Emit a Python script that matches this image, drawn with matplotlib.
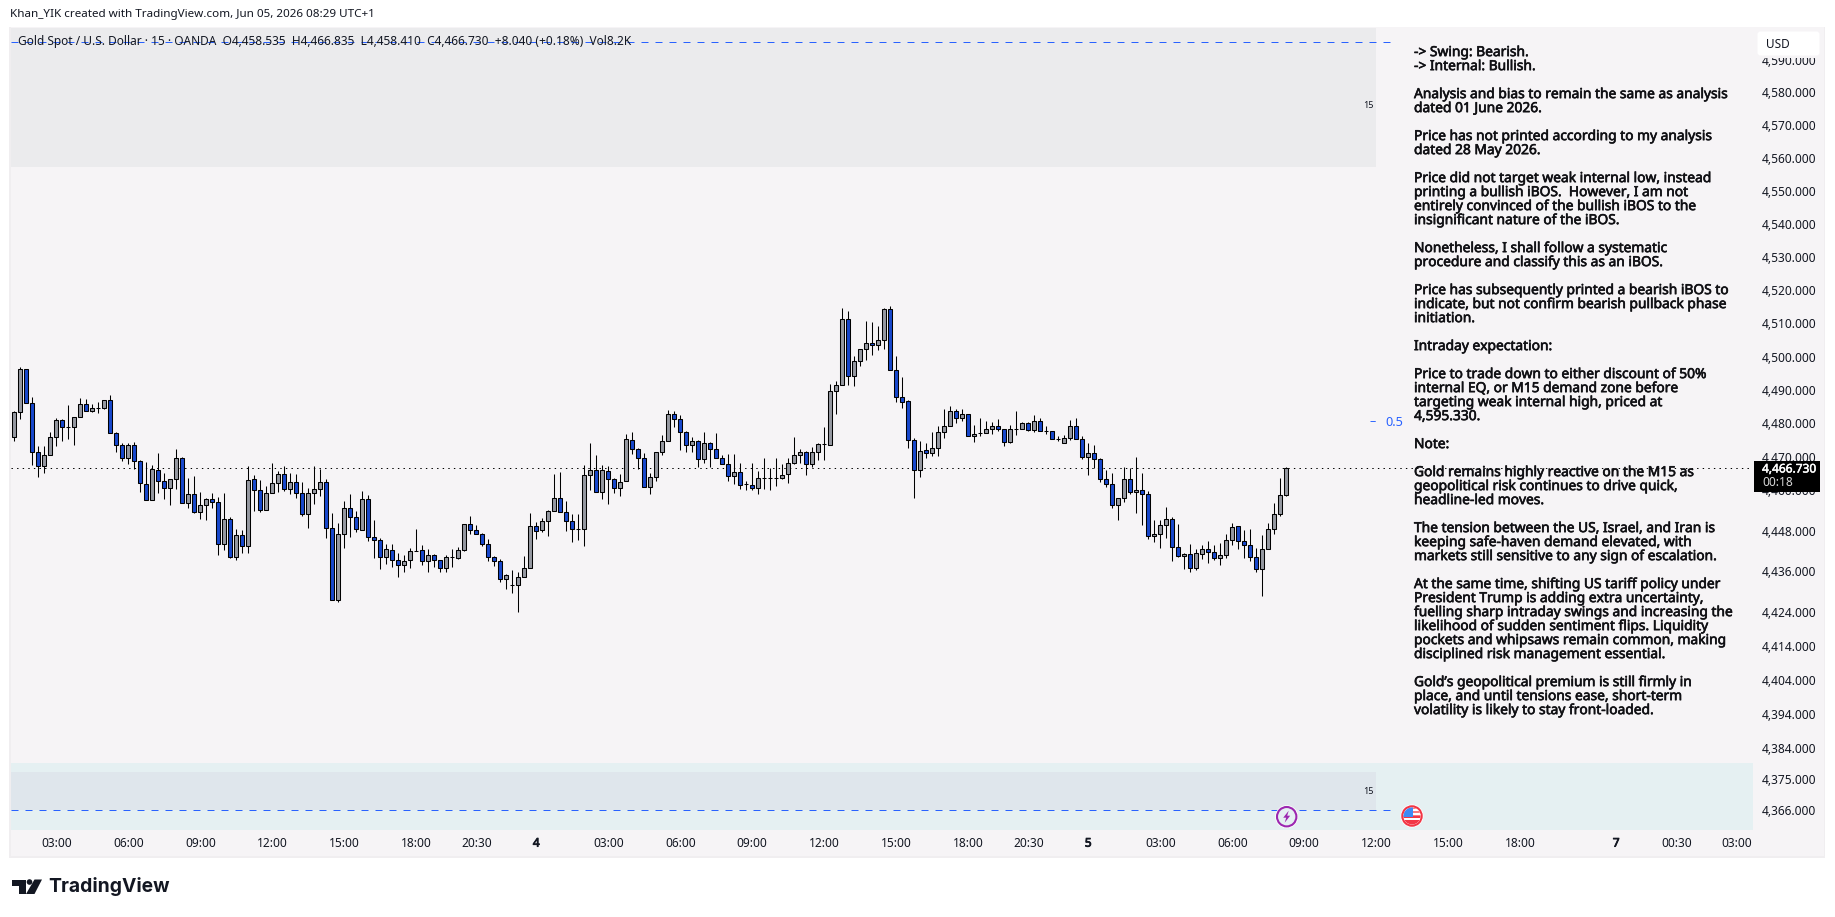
import numpy as np
import matplotlib
matplotlib.use("Agg")
import matplotlib.pyplot as plt
import matplotlib.patheffects as pe
from matplotlib.patches import Rectangle, Circle, Polygon, FancyBboxPatch
from matplotlib.ticker import FixedLocator, FixedFormatter, NullLocator

# 15 minute candles
opens = [4475.9,4483.4,4496.2,4486.1,4471.5,4467.2,4470.6,4475.9,4481.0,4478.9,
4478.9,4481.9,4485.8,4483.7,4484.6,4484.6,4487.0,4477.1,4473.6,4469.7,
4473.6,4468.8,4461.9,4457.2,4466.1,4462.8,4460.7,4463.4,4469.7,4456.3,
4458.9,4453.6,4455.7,4457.4,4456.5,4444.1,4451.5,4440.2,4446.7,4443.5,
4463.4,4460.1,4454.2,4459.2,4462.2,4464.9,4460.4,4462.5,4459.2,4453.0,
4459.2,4460.4,4462.5,4448.8,4427.4,4447.0,4454.8,4452.1,4448.2,4457.4,
4446.1,4445.2,4440.2,4442.3,4439.3,4437.8,4439.3,4442.0,4442.3,4439.0,
4440.8,4439.3,4436.9,4440.2,4439.9,4442.3,4450.0,4448.2,4447.0,4444.1,
4440.2,4439.0,4433.7,4431.9,4431.9,4434.2,4436.9,4449.4,4448.2,4450.9,
4453.9,4457.7,4453.6,4450.9,4448.5,4448.5,4464.6,4466.1,4459.5,4465.8,
4463.4,4460.7,4462.8,4475.0,4472.4,4469.7,4461.0,4464.0,4471.5,4474.8,
4482.8,4481.3,4477.4,4473.6,4474.8,4469.4,4474.2,4472.4,4469.7,4467.9,
4464.3,4465.5,4461.9,4461.6,4460.7,4463.7,4463.7,4463.7,4463.7,4464.9,
4468.2,4470.6,4471.5,4467.9,4471.5,4473.9,4473.6,4489.6,4491.4,4511.4,
4494.1,4498.6,4502.2,4504.0,4503.4,4504.9,4514.4,4495.9,4487.9,4486.7,
4475.1,4466.1,4472.1,4471.2,4472.7,4477.4,4479.2,4483.7,4481.6,4482.8,
4476.3,4477.1,4477.1,4478.3,4479.2,4478.3,4474.5,4478.3,4478.3,4480.1,
4478.0,4480.7,4477.7,4477.7,4475.4,4474.2,4475.7,4479.2,4475.4,4470.0,
4471.2,4469.4,4463.4,4461.9,4455.7,4457.7,4463.4,4459.4,4460.1,4458.9,
4446.4,4447.0,4449.7,4451.5,4443.2,4440.5,4441.1,4436.9,4441.1,4442.6,
4441.7,4439.9,4440.8,4445.2,4449.4,4445.0,4443.8,4440.2,4436.6,4442.6,
4448.5,4453.0,4458.535]
highs = [4483.7,4496.8,4496.2,4487.9,4473.1,4473.3,4477.4,4481.6,4481.4,4485.6,
4481.9,4487.6,4487.3,4485.8,4486.4,4487.0,4488.5,4477.4,4474.2,4474.0,
4474.5,4469.1,4468.5,4467.6,4471.2,4465.2,4463.4,4472.4,4470.0,4463.7,
4464.3,4459.5,4457.7,4459.2,4458.0,4459.2,4452.0,4448.5,4448.2,4467.3,
4464.6,4463.1,4461.3,4468.2,4465.8,4467.3,4465.2,4464.9,4462.5,4460.7,
4467.3,4466.4,4463.4,4453.3,4450.3,4456.9,4458.9,4453.9,4459.8,4458.6,
4451.2,4445.8,4444.2,4444.1,4441.4,4440.8,4442.9,4448.5,4443.8,4442.6,
4441.1,4439.3,4440.8,4442.6,4443.2,4450.0,4452.4,4449.7,4447.3,4445.5,
4440.5,4439.6,4435.1,4436.3,4435.7,4440.5,4453.3,4450.6,4451.8,4454.2,
4464.9,4465.5,4456.9,4453.0,4453.0,4467.6,4474.2,4470.6,4467.6,4467.3,
4463.7,4464.9,4476.8,4477.4,4472.7,4471.2,4465.2,4471.5,4476.5,4484.0,
4483.7,4482.5,4477.7,4476.0,4475.1,4477.4,4474.5,4477.1,4470.6,4470.9,
4470.9,4468.2,4462.8,4468.2,4465.8,4469.7,4466.7,4469.7,4467.9,4469.7,
4476.0,4472.4,4471.8,4473.0,4474.2,4478.9,4491.7,4492.6,4514.7,4513.8,
4500.1,4502.2,4510.8,4510.3,4509.3,4514.7,4515.3,4500.1,4493.8,4487.0,
4475.7,4474.8,4474.2,4477.4,4479.2,4484.3,4485.2,4484.3,4484.3,4482.8,
4479.5,4481.6,4480.7,4480.4,4481.3,4478.3,4479.5,4483.7,4480.4,4480.4,
4482.5,4481.6,4479.2,4477.7,4476.3,4476.6,4481.0,4481.6,4476.3,4474.2,
4473.6,4469.7,4466.1,4465.2,4457.7,4467.0,4466.7,4470.0,4465.2,4459.8,
4451.2,4451.2,4455.1,4452.1,4450.0,4441.4,4444.1,4442.6,4443.8,4445.0,
4443.8,4444.4,4447.0,4450.3,4449.4,4448.3,4448.6,4443.0,4446.7,4450.4,
4456.4,4463.8,4466.835]
lows = [4474.7,4481.4,4486.1,4467.7,4463.9,4465.1,4470.6,4473.2,4474.7,4475.3,
4473.5,4481.9,4483.7,4483.4,4483.0,4484.2,4477.0,4471.4,4468.7,4467.8,
4466.5,4459.4,4457.2,4457.2,4459.1,4457.3,4455.6,4460.3,4456.3,4454.7,
4453.3,4451.4,4451.1,4454.7,4440.7,4442.2,4439.9,4439.2,4441.3,4441.4,
4453.8,4453.5,4454.2,4459.2,4459.4,4459.8,4458.9,4457.7,4452.3,4448.7,
4455.9,4458.2,4446.0,4427.4,4426.8,4442.8,4446.3,4447.5,4448.2,4445.1,
4439.8,4436.8,4438.3,4437.4,4434.2,4435.7,4437.1,4442.0,4438.0,4435.9,
4437.4,4435.9,4435.7,4437.4,4439.6,4442.0,4446.9,4447.0,4443.4,4438.9,
4437.7,4432.7,4430.9,4429.7,4424.0,4434.2,4436.9,4445.7,4447.5,4446.6,
4453.9,4453.6,4447.8,4444.6,4445.4,4443.4,4460.0,4459.5,4457.3,4455.9,
4459.1,4458.2,4462.8,4470.8,4466.3,4461.0,4458.8,4462.7,4470.5,4474.8,
4479.0,4472.0,4471.4,4471.4,4467.1,4468.3,4467.1,4469.7,4467.9,4462.7,
4462.0,4460.3,4460.0,4460.0,4458.8,4460.3,4460.0,4461.2,4463.4,4462.1,
4467.9,4468.1,4464.5,4466.9,4469.0,4469.0,4473.6,4482.8,4491.4,4491.6,
4491.3,4497.3,4499.1,4500.6,4502.1,4502.3,4495.9,4486.3,4484.5,4472.6,
4457.7,4463.9,4469.6,4470.3,4470.2,4475.6,4479.2,4480.0,4480.6,4476.3,
4474.4,4476.3,4477.1,4476.8,4477.6,4473.2,4474.1,4476.5,4478.3,4477.6,
4477.4,4477.7,4476.9,4475.4,4474.7,4474.2,4475.0,4475.4,4469.3,4464.5,
4466.6,4462.4,4460.9,4454.7,4451.1,4456.5,4458.8,4453.2,4449.7,4445.7,
4444.6,4442.8,4446.0,4438.9,4440.1,4436.8,4435.7,4436.5,4439.5,4438.6,
4439.2,4438.0,4439.9,4443.8,4442.5,4439.8,4438.9,4435.7,4428.8,4442.6,
4446.9,4452.3,4458.41]
closes = [4483.4,4496.2,4486.1,4471.4,4467.2,4470.6,4476.0,4481.0,4478.9,4478.8,
4481.9,4485.8,4483.7,4484.6,4484.5,4487.0,4477.0,4473.6,4469.7,4473.6,
4468.8,4462.2,4457.2,4466.4,4462.8,4460.7,4463.4,4469.7,4456.3,4458.9,
4453.6,4455.7,4457.4,4456.5,4444.1,4451.5,4440.2,4446.7,4443.5,4463.1,
4460.1,4454.2,4459.2,4462.2,4464.9,4460.4,4462.5,4459.2,4453.0,4459.2,
4460.4,4462.5,4448.7,4427.4,4447.0,4454.8,4452.1,4448.5,4457.4,4446.1,
4445.2,4440.2,4442.6,4439.3,4437.8,4439.0,4442.0,4442.1,4439.0,4440.8,
4439.3,4436.9,4440.2,4440.1,4442.3,4450.0,4448.2,4447.0,4444.1,4440.2,
4439.0,4433.7,4434.8,4431.8,4434.2,4436.9,4449.4,4447.9,4450.9,4453.9,
4457.7,4453.6,4450.9,4448.5,4448.4,4464.6,4466.1,4459.5,4466.1,4463.4,
4460.7,4462.5,4475.3,4472.4,4469.7,4461.0,4464.0,4471.5,4474.8,4482.8,
4481.3,4477.4,4473.6,4474.8,4469.4,4474.2,4472.4,4469.7,4467.9,4464.3,
4465.5,4461.6,4461.8,4460.7,4463.7,4463.6,4463.6,4463.6,4464.6,4468.2,
4470.6,4471.5,4467.9,4471.5,4473.9,4473.8,4489.6,4491.4,4511.4,4494.1,
4498.6,4502.2,4504.0,4503.4,4504.9,4514.4,4495.9,4487.9,4486.4,4475.1,
4466.1,4471.8,4471.2,4472.7,4477.4,4479.2,4483.7,4481.6,4482.8,4476.3,
4476.8,4477.0,4478.3,4479.2,4478.3,4474.5,4478.3,4478.2,4480.1,4478.0,
4480.7,4477.7,4477.6,4475.4,4475.3,4475.7,4479.2,4475.4,4470.0,4471.2,
4469.4,4463.4,4461.9,4455.7,4457.7,4463.4,4459.4,4460.1,4458.9,4446.4,
4447.0,4449.7,4451.5,4443.2,4440.5,4441.1,4436.9,4441.4,4442.6,4441.7,
4439.9,4440.8,4445.2,4449.1,4445.0,4443.8,4440.2,4436.6,4442.6,4448.5,
4453.0,4458.6,4466.73]

last_price = 4466.73
swing_high = 4595.33
swing_low = 4366.0
supply_zone = [4557.4, 4640.0]
demand_zone = [4366.0, 4376.9]
demand_band = [4340.0, 4379.7]

price_ticks = [4590,4580,4570,4560,4550,4540,4530,4520,4510,4500,4490,4480,4470,4460,
               4448,4436,4424,4414,4404,4394,4384,4375,4366]
time_ticks = [7,19,31,43,55,67,77,87,99,111,123,135,147,159,169,179,191,203,215,227,239,251,267,277,287]
time_labels = ["03:00","06:00","09:00","12:00","15:00","18:00","20:30","4","03:00","06:00","09:00",
               "12:00","15:00","18:00","20:30","5","03:00","06:00","09:00","12:00","15:00","18:00",
               "7","00:30","03:00"]
day_labels = ["4","5","7"]

note_lines = ["-> Swing: Bearish.","-> Internal: Bullish.","",
"Analysis and bias to remain the same as analysis","dated 01 June 2026.","",
"Price has not printed according to my analysis","dated 28 May 2026.","",
"Price did not target weak internal low, instead","printing a bullish iBOS.  However, I am not",
"entirely convinced of the bullish iBOS to the","insignificant nature of the iBOS.","",
"Nonetheless, I shall follow a systematic","procedure and classify this as an iBOS.","",
"Price has subsequently printed a bearish iBOS to","indicate, but not confirm bearish pullback phase","initiation.","",
"Intraday expectation:","",
"Price to trade down to either discount of 50%","internal EQ, or M15 demand zone before",
"targeting weak internal high, priced at","4,595.330.","",
"Note:","",
"Gold remains highly reactive on the M15 as","geopolitical risk continues to drive quick,","headline-led moves.","",
"The tension between the US, Israel, and Iran is","keeping safe-haven demand elevated, with",
"markets still sensitive to any sign of escalation.","",
"At the same time, shifting US tariff policy under","President Trump is adding extra uncertainty,",
"fuelling sharp intraday swings and increasing the","likelihood of sudden sentiment flips. Liquidity",
"pockets and whipsaws remain common, making","disciplined risk management essential.","",
"Gold\u2019s geopolitical premium is still firmly in","place, and until tensions ease, short-term",
"volatility is likely to stay front-loaded."]

BG = "#f6f4f6"
UP = "#9598a1"
DOWN = "#1848cc"
BLUE = "#2962ff"
TXT = "#131722"
W, H = 1835, 917
plt.rcParams['font.family'] = ['Noto Sans', 'DejaVu Sans']

# Noto Sans only has the regular weight here, so thicken with a stroke
def heavy(col, w=0.4):
    return [pe.withStroke(linewidth=w, foreground=col)]

fig = plt.figure(figsize=(W/100, H/100), dpi=100, facecolor="white")
fig.add_artist(Rectangle((8.5/W, 1-858/H), 1816.5/W, 831/H, transform=fig.transFigure,
                         facecolor="#f0eef0", edgecolor="none"))
fig.add_artist(Rectangle((10.5/W, 1-856/H), 1813/W, 829/H, transform=fig.transFigure,
                         facecolor=BG, edgecolor="none"))

ax = fig.add_axes([10.5/W, 1-829/H, 1742.5/W, 801/H], facecolor=BG, zorder=2)
ax.set_yscale('log')
ax.set_xlim(-0.63, 289.8)
ax.set_ylim(4360.4, 4599.7)
for s in ax.spines.values():
    s.set_visible(False)

xs = np.arange(len(opens))
x0, x1 = ax.get_xlim()
ax.fill_between([x0, x1], demand_band[0], demand_band[1], color="#e5f0f2", lw=0, zorder=1)
ax.fill_between([x0, 227], demand_zone[0], demand_zone[1], color="#dfe6ec", lw=0, zorder=1.1)
ax.fill_between([x0, 227], supply_zone[0], supply_zone[1], color="#ebebed", lw=0, zorder=1.1)
ax.hlines([swing_high, swing_low], x0, 230, color=BLUE, lw=0.72, linestyles=(0, (7, 7)), zorder=1.5)
ax.axhline(last_price, color="black", lw=0.72, linestyle=(0, (1.4, 4.2)), zorder=1.6)

o = np.array(opens); c = np.array(closes)
cols = [UP if b >= a else DOWN for a, b in zip(opens, closes)]
ax.vlines(xs, lows, highs, color="black", lw=0.75, zorder=3)
ax.bar(xs, np.abs(c-o), bottom=np.minimum(o, c), width=0.62, color=cols,
       edgecolor="black", linewidth=0.75, zorder=4)

ax.yaxis.tick_right()
ax.yaxis.set_major_locator(FixedLocator(price_ticks))
ax.yaxis.set_major_formatter(FixedFormatter([f"{v:,.3f}" for v in price_ticks]))
ax.yaxis.set_minor_locator(NullLocator())
ax.tick_params(axis='y', which='both', length=0, pad=6.5, labelsize=8.6, labelcolor=TXT)
ax.set_xticks(time_ticks)
ax.set_xticklabels(time_labels)
ax.tick_params(axis='x', length=0, pad=5.5, labelsize=8.6, labelcolor=TXT)
for lab in ax.get_xticklabels():
    if lab.get_text() in day_labels:
        lab.set_path_effects(heavy(TXT, 0.6))

# everything that sits on top, placed in picture pixels
top = fig.add_axes([0, 0, 1, 1], zorder=5)
top.set_xlim(0, W)
top.set_ylim(H, 0)
top.axis('off')

top.text(10, 15, "Khan_YIK created with TradingView.com, Jun 05, 2026 08:29 UTC+1",
         fontsize=8.4, color=TXT, va='center')
top.text(18, 42, "Gold Spot / U.S. Dollar \u00b7 15 \u00b7 OANDA  O4,458.535  H4,466.835  L4,458.410  C4,466.730  +8.040 (+0.18%)  Vol8.2K",
         fontsize=8.55, color=TXT, va='center')

for i, line in enumerate(note_lines):
    if line:
        top.text(1414, 52.6+14*i, line, fontsize=9.93, color="#101014", va='center',
                 path_effects=heavy("#101014", 0.45))

top.text(1368, 105.7, "15", fontsize=6.5, color=TXT, ha='center', va='center')
top.text(1368, 791.7, "15", fontsize=6.5, color=TXT, ha='center', va='center')
top.text(1369, 422, "\u2013", fontsize=9, color=BLUE, va='center')
top.text(1385, 422, "0.5", fontsize=9.2, color=BLUE, va='center')

# the scale label under the currency button is cut off by it
top.add_patch(Rectangle((1755, 28), 67, 30, facecolor=BG, edgecolor="none"))
top.add_patch(FancyBboxPatch((1759, 33), 59, 21, boxstyle="round,pad=1.5,rounding_size=3",
                             facecolor="white", edgecolor="none"))
top.text(1766, 44.5, "USD", fontsize=8.5, color=TXT, va='center')

top.add_patch(Rectangle((1754, 461), 66, 31, facecolor="black", edgecolor="none"))
top.text(1762, 469, "4,466.730", fontsize=8.6, color="white", va='center', path_effects=heavy("white", 0.35))
top.text(1762, 482.7, "00:18", fontsize=8.6, color="#d8d8d8", va='center')

# lightning marker
top.add_patch(Circle((1286.7, 816.7), 11.5, facecolor="white", edgecolor="none"))
top.add_patch(Circle((1286.7, 816.7), 9.7, facecolor="#e5f0f2", edgecolor="#9c27b0", lw=1.5))
bolt = np.array([[2, -6], [-3.5, 1], [-0.5, 1], [-2, 6], [3.5, -1], [0.5, -1]])
top.add_patch(Polygon(bolt + [1286.7, 816.7], closed=True, facecolor="#9c27b0", edgecolor="none"))

# US flag marker
top.add_patch(Circle((1412, 816), 11.5, facecolor="white", edgecolor="none"))
top.add_patch(Circle((1412, 816), 9.7, facecolor="white", edgecolor="#f23645", lw=1.5))
clip = Circle((1412, 816), 8.5, transform=top.transData)
for y0, h, col, x_, w_ in [(807, 9, "#f77c80", 1403, 18), (809, 2, "white", 1403, 18), (813, 2, "white", 1403, 18),
                           (816, 2, "#f23645", 1403, 18), (818, 2, "white", 1403, 18), (820, 5, "#f23645", 1403, 18),
                           (807, 10, "#3d8bf5", 1403, 10)]:
    r = Rectangle((x_, y0), w_, h, facecolor=col, edgecolor="none")
    top.add_patch(r)
    r.set_clip_path(clip)

# TradingView logo
top.add_patch(Polygon([[12, 879.5], [25.5, 879.5], [25.5, 894], [18.5, 894], [18.5, 885.5], [12, 885.5]],
                      closed=True, facecolor="#131722", edgecolor="none"))
top.add_patch(Circle((29.5, 882), 2.8, facecolor="#131722", edgecolor="none"))
top.add_patch(Polygon([[34.5, 879.5], [42, 879.5], [34.5, 894], [26, 894]],
                      closed=True, facecolor="#131722", edgecolor="none"))
top.text(48.5, 886.5, "TradingView", fontsize=13.9, fontweight='bold', color="#131722",
         va='center', family=['Inter', 'DejaVu Sans'])

fig.savefig("out.png", dpi=100)
